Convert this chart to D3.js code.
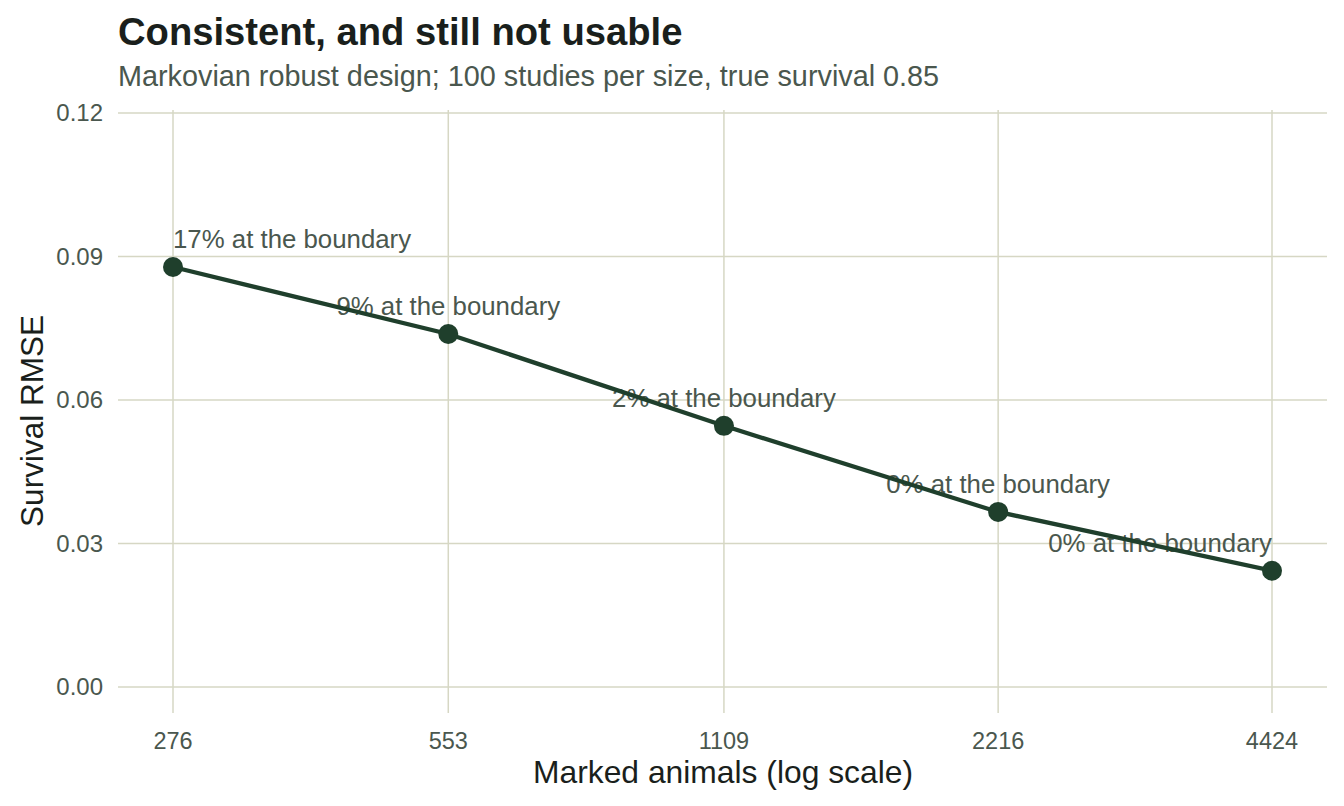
<!DOCTYPE html>
<html><head><meta charset="utf-8">
<script src="https://cdn.jsdelivr.net/npm/d3@7"></script>
<style>body{margin:0;background:#fff;} svg{display:block;font-family:"Liberation Sans",Arial,sans-serif;}</style>
</head><body>
<svg id="chart" width="1344" height="806"></svg>
<script>
const sizes = [276, 553, 1109, 2216, 4424];
const rmse = [0.0878, 0.0738, 0.0546, 0.0366, 0.0243];
const boundaryPct = [17, 9, 2, 0, 0];
const yTicks = [0, 0.03, 0.06, 0.09, 0.12];
const xTickLabels = ["276", "553", "1109", "2216", "4424"];

(function () {
const svg = d3.select("#chart");
const pLeft = 118, pRight = 1327, pTop = 110, pBottom = 713;
const x = d3.scaleLog().domain([276, 4424]).range([173, 1272]);
const y = d3.scaleLinear().domain([0, 0.12]).range([687, 113]);
const grid = "#d6d7c4", dark = "#1f3f2c", textCol = "#4a574e";

// grid
svg.append("g").selectAll("line").data(yTicks).join("line")
  .attr("x1", pLeft).attr("x2", pRight).attr("y1", d => y(d)).attr("y2", d => y(d))
  .attr("stroke", grid).attr("stroke-width", 1.5);
svg.append("g").selectAll("line").data(sizes).join("line")
  .attr("x1", d => x(d)).attr("x2", d => x(d)).attr("y1", pTop).attr("y2", pBottom)
  .attr("stroke", grid).attr("stroke-width", 1.5);

// axes labels
svg.append("g").selectAll("text").data(yTicks).join("text")
  .attr("x", 103).attr("y", d => y(d)).attr("dy", "0.35em").attr("text-anchor", "end")
  .attr("font-size", 24).attr("fill", textCol).text(d => d3.format(".2f")(d));
svg.append("g").selectAll("text").data(sizes).join("text")
  .attr("x", d => x(d)).attr("y", 749).attr("text-anchor", "middle")
  .attr("font-size", 23.5).attr("fill", textCol).text((d, i) => xTickLabels[i]);

svg.append("text").attr("x", 723).attr("y", 783).attr("text-anchor", "middle")
  .attr("font-size", 31.8).attr("fill", "#1a1f1c").text("Marked animals (log scale)");
svg.append("text").attr("transform", `translate(43,421) rotate(-90)`)
  .attr("text-anchor", "middle").attr("font-size", 31.5).attr("fill", "#1a1f1c").text("Survival RMSE");

// title
svg.append("text").attr("x", 118).attr("y", 45).attr("font-size", 38.2).attr("font-weight", "bold")
  .attr("fill", "#1a1f1c").text("Consistent, and still not usable");
svg.append("text").attr("x", 118).attr("y", 86).attr("font-size", 28.8)
  .attr("fill", textCol).text("Markovian robust design; 100 studies per size, true survival 0.85");

const data = sizes.map((s, i) => ({s, v: rmse[i], p: boundaryPct[i], i}));

// point labels
svg.append("g").selectAll("text").data(data).join("text")
  .attr("x", d => x(d.s)).attr("y", d => y(d.v) - 19)
  .attr("text-anchor", d => d.i === 0 ? "start" : d.i === data.length - 1 ? "end" : "middle")
  .attr("font-size", 25.8).attr("fill", textCol).text(d => `${d.p}% at the boundary`);

// line + points
svg.append("path").datum(data)
  .attr("d", d3.line().x(d => x(d.s)).y(d => y(d.v)))
  .attr("fill", "none").attr("stroke", dark).attr("stroke-width", 4.3);
svg.append("g").selectAll("circle").data(data).join("circle")
  .attr("cx", d => x(d.s)).attr("cy", d => y(d.v)).attr("r", 10).attr("fill", dark);
})();
</script>
</body></html>
